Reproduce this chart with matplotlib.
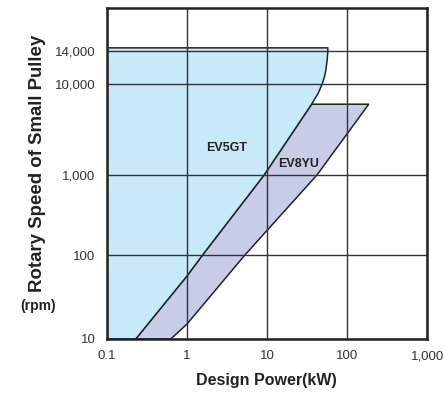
import numpy as np
import matplotlib
matplotlib.use("Agg")
import matplotlib.pyplot as plt
from matplotlib.patches import Polygon
from matplotlib.ticker import NullLocator, FixedLocator, FixedFormatter

plt.rcParams['font.family'] = ['Liberation Sans', 'DejaVu Sans']

# ---- data ----
ev5_x = [0.1, 0.23, 1.0, 1.57, 9.2, 36, 43.5, 48.8, 52.2, 54.2, 56.3, 57.5, 57.3, 0.1]
ev5_y = [10, 10, 56, 100, 1000, 6000, 7900, 10000, 10770, 11520, 12740, 14000, 14400, 14400]

ev8_x = [0.23, 1.0, 1.57, 9.2, 36, 186, 42, 5.3, 1.0, 0.63]
ev8_y = [10, 56, 100, 1000, 6000, 6000, 1000, 100, 15, 10]

x_ticks = [0.1, 1, 10, 100, 1000]
x_tick_labels = ['0.1', '1', '10', '100', '1,000']
y_ticks = [10, 100, 1000, 10000, 14000]
y_tick_labels = ['10', '100', '1,000', '10,000', '14,000']

# schematic (non-uniform) y scale: log10 value -> position
LK = [-1, 1, 2, 3, 4, np.log10(14000), 4.328, 7]
PP = [-166, 0, 84, 164, 255, 288.3, 330.7, 950]


def fwd(y):
    y = np.asarray(y, dtype=float)
    return np.interp(np.log10(np.clip(y, 1e-12, None)), LK, PP)


def inv(p):
    p = np.asarray(p, dtype=float)
    return 10 ** np.interp(p, PP, LK)


fig = plt.figure(figsize=(4.44, 3.94), dpi=100)
ax = fig.add_axes([0.2403, 0.1396, 0.7221, 0.8393])
ax.set_xscale('log')
ax.set_yscale('function', functions=(fwd, inv))
ax.set_xlim(0.1, 1000)
ax.set_ylim(10, 10 ** 4.328)

blue = '#c7e9f8'
purple = '#c9cce6'
ax.add_patch(Polygon(list(zip(ev8_x, ev8_y)), closed=True, facecolor=purple,
                     edgecolor='#222222', linewidth=1.1, zorder=1))
ax.add_patch(Polygon(list(zip(ev5_x, ev5_y)), closed=True, facecolor=blue,
                     edgecolor='#222222', linewidth=1.1, zorder=1.1,
                     joinstyle='round'))

ax.xaxis.set_major_locator(FixedLocator(x_ticks))
ax.xaxis.set_major_formatter(FixedFormatter(x_tick_labels))
ax.xaxis.set_minor_locator(NullLocator())
ax.yaxis.set_major_locator(FixedLocator(y_ticks))
ax.yaxis.set_major_formatter(FixedFormatter(y_tick_labels))
ax.yaxis.set_minor_locator(NullLocator())

ax.set_axisbelow(False)
ax.grid(True, which='major', color='#333333', linewidth=1.0)
ax.tick_params(length=0, labelsize=9.5, labelcolor='#333333')
ax.tick_params(axis='x', pad=8)
ax.tick_params(axis='y', pad=8)
for s in ax.spines.values():
    s.set_linewidth(1.8)
    s.set_color('#222222')
    s.set_zorder(3)

ax.text(3.13, 2000, 'EV5GT', fontsize=9, fontweight='bold', color='#222222',
        ha='center', va='center', zorder=4)
ax.text(24.5, 1310, 'EV8YU', fontsize=9, fontweight='bold', color='#222222',
        ha='center', va='center', zorder=4)

fig.text(266.7 / 444, 1 - 380 / 394, 'Design Power(kW)', fontsize=11.5,
         fontweight='bold', color='#222222', ha='center', va='center')
fig.text(37.7 / 444, 1 - 163 / 394, 'Rotary Speed of Small Pulley', fontsize=13.4,
         fontweight='bold', color='#222222', ha='center', va='center', rotation=90)
fig.text(37.7 / 444, 1 - 306 / 394, '(rpm)', fontsize=10,
         fontweight='bold', color='#222222', ha='center', va='center')

fig.savefig('out.png', dpi=100)
